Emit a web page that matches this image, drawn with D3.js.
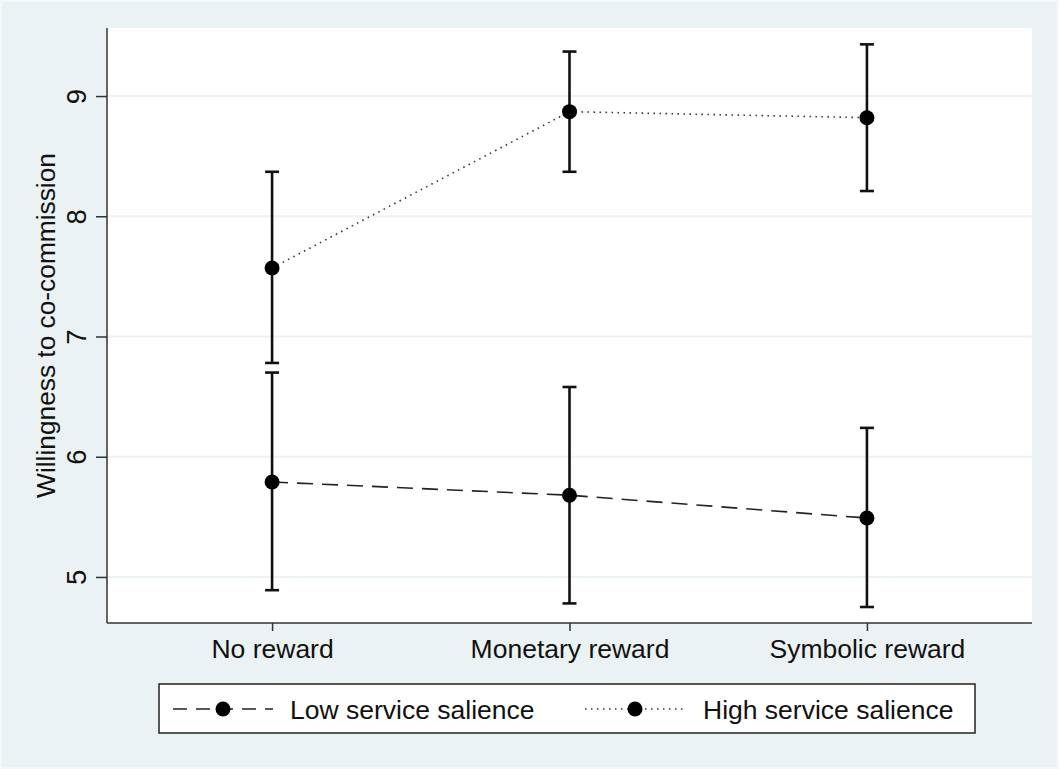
<!DOCTYPE html>
<html>
<head>
<meta charset="utf-8">
<script src="https://cdn.jsdelivr.net/npm/d3@7"></script>
<style>
  html, body { margin: 0; padding: 0; background: #eaf2f3; }
  svg { display: block; font-family: "Liberation Sans", Arial, Helvetica, sans-serif; }
</style>
</head>
<body>
<svg id="chart" width="1059" height="769"></svg>
<script>
// Conditions on the x axis
const categories = ["No reward", "Monetary reward", "Symbolic reward"];

// Means and 95% confidence limits per condition
const lowMean  = [5.79, 5.68, 5.49];
const lowLo    = [4.89, 4.78, 4.75];
const lowHi    = [6.70, 6.58, 6.24];

const highMean = [7.57, 8.87, 8.82];
const highLo   = [6.78, 8.37, 8.21];
const highHi   = [8.37, 9.37, 9.43];

const yTicks = [5, 6, 7, 8, 9];
const seriesNames = ["Low service salience", "High service salience"];

const svg = d3.select("#chart");
const W = 1059, H = 769;
const plot = { left: 107, right: 1032, top: 28, bottom: 623 };

// Background
svg.append("rect").attr("width", W).attr("height", H).attr("fill", "#eaf2f3");
svg.append("rect").attr("x", 1).attr("y", 1).attr("width", W - 2).attr("height", H - 2)
  .attr("fill", "none").attr("stroke", "#f4f8f9").attr("stroke-width", 2);

// Plot region
svg.append("rect")
  .attr("x", plot.left).attr("y", plot.top)
  .attr("width", plot.right - plot.left).attr("height", plot.bottom - plot.top)
  .attr("fill", "#ffffff");

const x = d3.scaleLinear().domain([0.445, 3.555]).range([plot.left, plot.right]);
const y = d3.scaleLinear().domain([4.617, 9.566]).range([plot.bottom, plot.top]);

// Gridlines
svg.append("g").selectAll("line").data(yTicks).join("line")
  .attr("x1", plot.left).attr("x2", plot.right)
  .attr("y1", d => y(d)).attr("y2", d => y(d))
  .attr("stroke", "#eaf2f3").attr("stroke-width", 2);

// Y axis
const yAxis = svg.append("g").attr("transform", `translate(${plot.left},0)`)
  .call(d3.axisLeft(y).tickValues(yTicks).tickSize(11).tickPadding(0).tickFormat(d3.format("d")));
yAxis.select(".domain").remove();
yAxis.selectAll(".tick line").attr("stroke", "#333").attr("stroke-width", 1.5);
yAxis.selectAll(".tick text")
  .attr("transform", "translate(-31,0) rotate(-90)")
  .attr("x", 0).attr("dy", "0.36em")
  .attr("text-anchor", "middle")
  .attr("font-size", 27.5).attr("fill", "#111");
svg.append("line")
  .attr("x1", plot.left).attr("x2", plot.left)
  .attr("y1", plot.top).attr("y2", plot.bottom)
  .attr("stroke", "#333").attr("stroke-width", 1.5);

// X axis
const xAxis = svg.append("g").attr("transform", `translate(0,${plot.bottom})`)
  .call(d3.axisBottom(x).tickValues([1, 2, 3]).tickSize(8).tickPadding(8)
    .tickFormat(d => categories[d - 1]));
xAxis.select(".domain").remove();
xAxis.selectAll(".tick line").attr("stroke", "#333").attr("stroke-width", 1.5);
xAxis.selectAll(".tick text").attr("font-size", 26.5).attr("fill", "#111");
svg.append("line")
  .attr("x1", plot.left).attr("x2", plot.right)
  .attr("y1", plot.bottom).attr("y2", plot.bottom)
  .attr("stroke", "#333").attr("stroke-width", 1.5);

// Y axis title
svg.append("text")
  .attr("transform", `translate(55,${(plot.top + plot.bottom) / 2}) rotate(-90)`)
  .attr("text-anchor", "middle")
  .attr("font-size", 26.3).attr("fill", "#111")
  .text("Willingness to co-commission");

// Series
const series = [
  { mean: lowMean, lo: lowLo, hi: lowHi, dash: "16,9", width: 1.6, color: "#222" },
  { mean: highMean, lo: highLo, hi: highHi, dash: "1.5,4.5", width: 1.6, color: "#333" }
];

const line = d3.line().x((d, i) => x(i + 1)).y(d => y(d));
const capHalf = 7;

series.forEach(s => {
  const g = svg.append("g");
  g.append("path").datum(s.mean).attr("d", line)
    .attr("fill", "none").attr("stroke", s.color)
    .attr("stroke-width", s.width).attr("stroke-dasharray", s.dash);
  const idx = d3.range(s.mean.length);
  g.selectAll(".bar").data(idx).join("line")
    .attr("x1", i => x(i + 1)).attr("x2", i => x(i + 1))
    .attr("y1", i => y(s.lo[i])).attr("y2", i => y(s.hi[i]))
    .attr("stroke", "#111").attr("stroke-width", 2.6);
  ["lo", "hi"].forEach(k => {
    g.selectAll(".cap-" + k).data(idx).join("line")
      .attr("x1", i => x(i + 1) - capHalf).attr("x2", i => x(i + 1) + capHalf)
      .attr("y1", i => y(s[k][i])).attr("y2", i => y(s[k][i]))
      .attr("stroke", "#111").attr("stroke-width", 2.6);
  });
  g.selectAll("circle").data(s.mean).join("circle")
    .attr("cx", (d, i) => x(i + 1)).attr("cy", d => y(d))
    .attr("r", 7.5).attr("fill", "#000");
});

// Legend
const legend = svg.append("g");
legend.append("rect")
  .attr("x", 159).attr("y", 684).attr("width", 816).attr("height", 49)
  .attr("fill", "#fff").attr("stroke", "#222").attr("stroke-width", 1.5);
const legendItems = [
  { x0: 173, x1: 273, tx: 290, s: series[0], name: seriesNames[0] },
  { x0: 585, x1: 685, tx: 703, s: series[1], name: seriesNames[1] }
];
const ly = 709;
legendItems.forEach(it => {
  legend.append("line")
    .attr("x1", it.x0).attr("x2", it.x1).attr("y1", ly).attr("y2", ly)
    .attr("stroke", it.s.color).attr("stroke-width", it.s.width)
    .attr("stroke-dasharray", it.s === series[0] ? "14,9" : it.s.dash);
  legend.append("circle").attr("cx", (it.x0 + it.x1) / 2).attr("cy", ly)
    .attr("r", 7.5).attr("fill", "#000");
  legend.append("text").attr("x", it.tx).attr("y", ly).attr("dy", "0.36em")
    .attr("font-size", 26.5).attr("fill", "#111").text(it.name);
});
</script>
</body>
</html>
